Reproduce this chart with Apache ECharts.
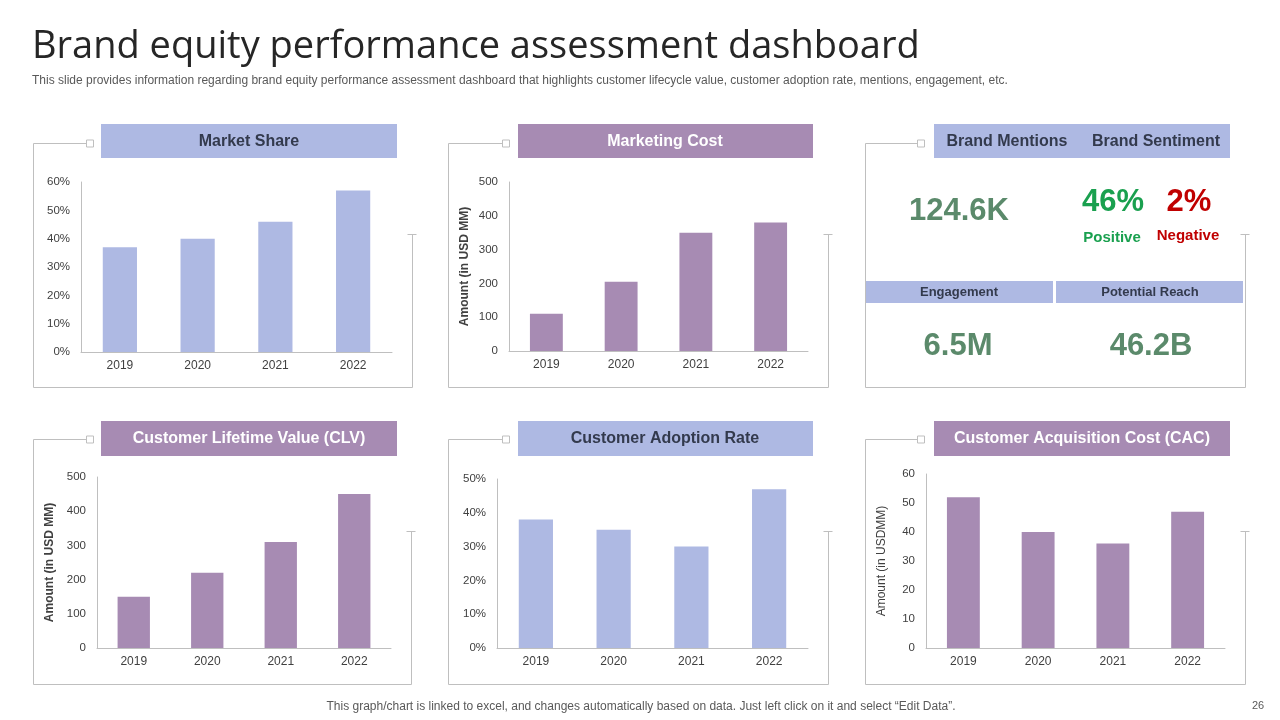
<!DOCTYPE html>
<html>
<head>
<meta charset="utf-8">
<title>Brand equity performance assessment dashboard</title>
<script src="https://cdn.jsdelivr.net/npm/echarts@6/dist/echarts.min.js"></script>
<style>
  html, body { margin: 0; padding: 0; background: #fff; }
  #chart { width: 1280px; height: 720px; }
</style>
</head>
<body>
<div id="chart"></div>
<script>
// data
const years = ['2019', '2020', '2021', '2022']
const marketShare = [37, 40, 46, 57]          // %
const marketingCost = [110, 205, 350, 380]    // USD MM
const customerLifetimeValue = [150, 220, 310, 450]
const customerAdoptionRate = [38, 35, 30, 47] // %
const customerAcquisitionCost = [52, 40, 36, 47]

const brandMentions = '124.6K'
const sentimentPositive = '46%'
const sentimentNegative = '2%'
const engagement = '6.5M'
const potentialReach = '46.2B'

const BLUE = '#aeb9e3'
const PURPLE = '#a78bb3'
const FRAME = '#bfbfbf'
const LABEL = '#404040'
const FONT = '"Liberation Sans", Arial, sans-serif'

const chart = echarts.init(document.getElementById('chart'))

// one entry per small bar chart
const panels = [
  { grid: { left: 81, top: 182, width: 311, height: 170 }, data: marketShare, color: BLUE, max: 60, interval: 10, pct: true },
  { grid: { left: 509, top: 182, width: 299, height: 169 }, data: marketingCost, color: PURPLE, max: 500, interval: 100, name: 'Amount (in USD MM)', nameGap: 38, bold: true },
  { grid: { left: 97, top: 477, width: 294, height: 171 }, data: customerLifetimeValue, color: PURPLE, max: 500, interval: 100, name: 'Amount (in USD MM)', nameGap: 41, bold: true },
  { grid: { left: 497, top: 479, width: 311, height: 169 }, data: customerAdoptionRate, color: BLUE, max: 50, interval: 10, pct: true },
  { grid: { left: 926, top: 474, width: 299, height: 174 }, data: customerAcquisitionCost, color: PURPLE, max: 60, interval: 10, name: 'Amount (in USDMM)', nameGap: 38, bold: false }
]

function frame(L, T, R, B, sqX, rightTop) {
  return [
    {
      type: 'polyline',
      shape: { points: [[sqX, T], [L, T], [L, B], [R, B], [R, rightTop]] },
      style: { stroke: FRAME, lineWidth: 1, fill: null }
    },
    {
      type: 'line',
      shape: { x1: R - 5, y1: rightTop, x2: R + 4, y2: rightTop },
      style: { stroke: FRAME, lineWidth: 1 }
    },
    {
      type: 'rect',
      shape: { x: sqX, y: T - 3.5, width: 7, height: 7 },
      style: { stroke: FRAME, lineWidth: 1, fill: '#fff' }
    }
  ]
}

function header(x, y, w, h, fill) {
  return { type: 'rect', shape: { x: x, y: y, width: w, height: h }, style: { fill: fill } }
}

function text(x, y, str, font, fill, align) {
  return {
    type: 'text',
    style: { x: x, y: y, text: str, font: font, fill: fill, align: align || 'center', verticalAlign: 'middle' }
  }
}

const graphics = [
  text(32, 47, 'Brand equity performance assessment dashboard', '38px "Open Sans", sans-serif', '#262626', 'left'),
  text(32, 81, 'This slide provides information regarding brand equity performance assessment dashboard that highlights customer lifecycle value, customer adoption rate, mentions, engagement, etc.', '12px ' + FONT, '#595959', 'left'),
  text(641, 707, 'This graph/chart is linked to excel, and changes automatically based on data. Just left click on it and select \u201cEdit Data\u201d.', '12px ' + FONT, '#595959'),
  text(1258, 706, '26', '11px ' + FONT, '#595959'),

  ...frame(33.5, 143.5, 412.5, 387.5, 86.5, 234.5),
  ...frame(448.5, 143.5, 828.5, 387.5, 502.5, 234.5),
  ...frame(865.5, 143.5, 1245.5, 387.5, 917.5, 234.5),
  ...frame(33.5, 439.5, 411.5, 684.5, 86.5, 531.5),
  ...frame(448.5, 439.5, 828.5, 684.5, 502.5, 531.5),
  ...frame(865.5, 439.5, 1245.5, 684.5, 917.5, 531.5),

  header(101, 124, 296, 34, BLUE),
  text(249, 142, 'Market Share', 'bold 16px ' + FONT, '#333a4d'),
  header(518, 124, 295, 34, PURPLE),
  text(665, 142, 'Marketing Cost', 'bold 16px ' + FONT, '#fff'),
  header(934, 124, 296, 34, BLUE),
  text(1007, 142, 'Brand Mentions', 'bold 16px ' + FONT, '#333a4d'),
  text(1156, 142, 'Brand Sentiment', 'bold 16px ' + FONT, '#333a4d'),
  header(101, 421, 296, 35, PURPLE),
  text(249, 439, 'Customer Lifetime Value (CLV)', 'bold 16px ' + FONT, '#fff'),
  header(518, 421, 295, 35, BLUE),
  text(665, 439, 'Customer Adoption Rate', 'bold 16px ' + FONT, '#333a4d'),
  header(934, 421, 296, 35, PURPLE),
  text(1082, 439, 'Customer Acquisition Cost (CAC)', 'bold 16px ' + FONT, '#fff'),

  // brand KPIs
  text(959, 211, brandMentions, 'bold 31px ' + FONT, '#5b8a6b'),
  text(1113, 202, sentimentPositive, 'bold 31px ' + FONT, '#1aa04f'),
  text(1189, 202, sentimentNegative, 'bold 31px ' + FONT, '#c00000'),
  text(1112, 238, 'Positive', 'bold 15px ' + FONT, '#1aa04f'),
  text(1188, 236, 'Negative', 'bold 15px ' + FONT, '#c00000'),
  header(866, 281, 187, 22, BLUE),
  header(1056, 281, 187, 22, BLUE),
  text(959, 292, 'Engagement', 'bold 13px ' + FONT, '#333a4d'),
  text(1150, 292, 'Potential Reach', 'bold 13px ' + FONT, '#333a4d'),
  text(958, 346, engagement, 'bold 31px ' + FONT, '#5b8a6b'),
  text(1151, 346, potentialReach, 'bold 31px ' + FONT, '#5b8a6b')
]

chart.setOption({
  backgroundColor: '#fff',
  animation: false,
  textStyle: { fontFamily: FONT },
  grid: panels.map(p => Object.assign({ containLabel: false, outerBoundsMode: 'none' }, p.grid)),
  xAxis: panels.map((p, i) => ({
    type: 'category',
    gridIndex: i,
    data: years,
    axisLine: { lineStyle: { color: FRAME, width: 1 } },
    axisTick: { show: false },
    axisLabel: { color: LABEL, fontSize: 12, margin: 8 }
  })),
  yAxis: panels.map((p, i) => ({
    type: 'value',
    gridIndex: i,
    min: 0,
    max: p.max,
    interval: p.interval,
    name: p.name || '',
    nameLocation: 'middle',
    nameGap: p.nameGap || 0,
    nameRotate: 90,
    nameTextStyle: { color: LABEL, fontSize: 12, fontWeight: p.bold ? 'bold' : 'normal' },
    axisLine: { show: true, lineStyle: { color: FRAME, width: 1 } },
    axisTick: { show: false },
    splitLine: { show: false },
    axisLabel: { color: LABEL, fontSize: 11.5, margin: 11, formatter: p.pct ? '{value}%' : '{value}' }
  })),
  series: panels.map((p, i) => ({
    type: 'bar',
    xAxisIndex: i,
    yAxisIndex: i,
    data: p.data,
    barWidth: '44%',
    itemStyle: { color: p.color },
    silent: true
  })),
  graphic: { elements: graphics }
})
</script>
</body>
</html>
